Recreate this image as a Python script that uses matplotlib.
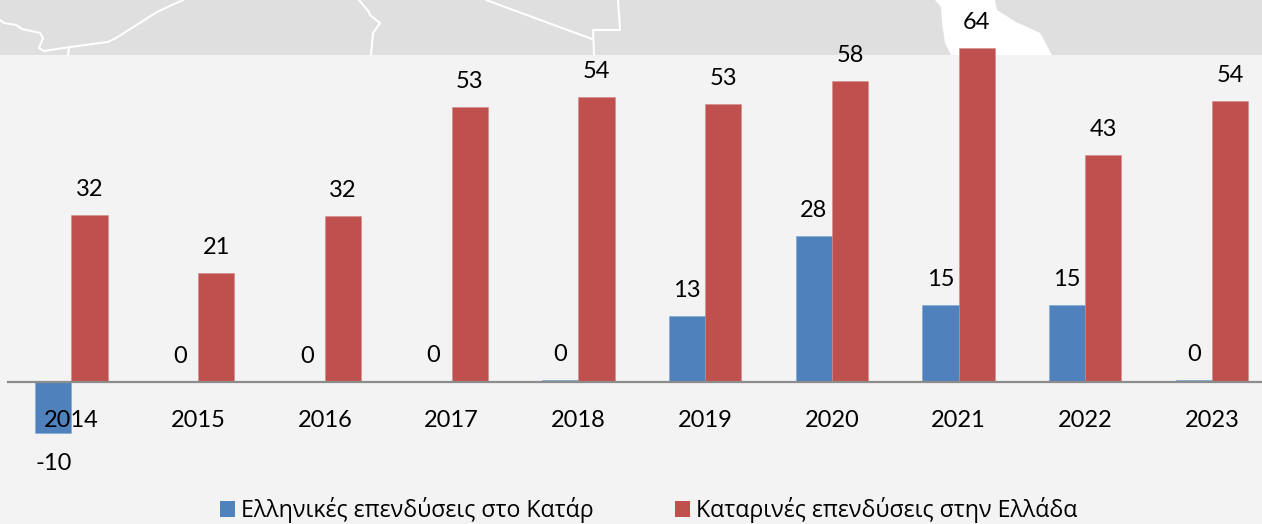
import numpy as np
import matplotlib
matplotlib.use("Agg")
import matplotlib.pyplot as plt
from matplotlib.patches import Polygon, Patch

# %% data
years = [2014, 2015, 2016, 2017, 2018, 2019, 2020, 2021, 2022, 2023]
greek = [-9.8, 0, 0, 0.1, 0.3, 12.6, 28, 14.7, 14.7, 0.3]
qatar = [32, 20.9, 31.8, 52.7, 54.6, 53.2, 57.7, 64, 43.5, 53.8]
greek_labels = ["-10", "0", "0", "0", "0", "13", "28", "15", "15", "0"]
qatar_labels = ["32", "21", "32", "53", "54", "53", "58", "64", "43", "54"]
names = ["Ελληνικές επενδύσεις στο Κατάρ", "Καταρινές επενδύσεις στην Ελλάδα"]

# background map outline, in pixels
border_lines = [
    [(0, 20), (4, 23), (16, 25), (22, 29), (40, 33), (43, 38), (39, 48), (44, 51),
     (70, 47), (108, 42), (116, 38), (157, 12), (183, 0)],
    [(69, 48), (68, 55)],
    [(359, 0), (369, 12), (370, 15), (380, 23), (373, 33), (371, 55)],
    [(486, 0), (592, 39)],
    [(594, 55), (593, 30), (620, 30), (618, 0)],
]
sea = [(935, 0), (941, 7), (942, 23), (945, 43), (951, 55), (1052, 55), (1044, 40),
       (1040, 33), (1016, 22), (997, 10), (995, 0)]

blue = "#4F81BD"
red = "#C0504D"
W, H = 1262, 524

# %%
fig = plt.figure(figsize=(W / 100, H / 100), dpi=100, facecolor="#F3F3F3")

bg = fig.add_axes([0, 0, 1, 1], zorder=0)
bg.set_xlim(0, W)
bg.set_ylim(H, 0)
bg.axis("off")
bg.fill_between([0, W], 0, 55, color="#DFDFDF", lw=0)
bg.add_patch(Polygon(sea, closed=True, fc="white", ec="none"))
for line in border_lines:
    xs, ys = zip(*line)
    bg.plot(xs, ys, color="white", lw=1.5, solid_capstyle="round", solid_joinstyle="round")

ax = fig.add_axes([8 / W, 0, (W - 8) / W, 1], zorder=1)
ax.patch.set_alpha(0)
step = 126.75
ax.set_xlim(-(71.5 - 8) / step, 9 + (W - 1212) / step)
ax.set_ylim(-(H - 382) / 5.22, 382 / 5.22)

x = np.arange(len(years))
bw = 36.2 / step
ax.bar(x - bw / 2, greek, bw, color=blue, edgecolor="#7FA6D6", lw=0.4, zorder=1)
ax.bar(x + bw / 2, qatar, bw, color=red, edgecolor="#D08A88", lw=0.4, zorder=1)

ax.set_axisbelow(False)
ax.set_xticks(x)
ax.set_xticklabels(years)
ax.tick_params(axis="x", length=0, pad=20, labelsize=17, labelfontfamily="Lato", labelcolor="black")
ax.set_yticks([])
for s in ["top", "left", "right"]:
    ax.spines[s].set_visible(False)
ax.spines["bottom"].set_position(("data", 0))
ax.spines["bottom"].set_color("#8C8C8C")
ax.spines["bottom"].set_linewidth(1.6)

off = 25.5 * 0.72
off_neg = 30 * 0.72
for i in x:
    ax.annotate(qatar_labels[i], (i + bw / 2, qatar[i]), xytext=(0, off), textcoords="offset points",
                ha="center", va="center", fontsize=17, family="Lato", color="black", zorder=4)
    dy = -off_neg if greek[i] < 0 else off
    ax.annotate(greek_labels[i], (i - bw / 2, greek[i]), xytext=(0, dy), textcoords="offset points",
                ha="center", va="center", fontsize=17, family="Lato", color="black", zorder=4)

handles = [Patch(fc=blue, ec="none"), Patch(fc=red, ec="none")]
ax.legend(handles, names, ncol=2, loc="lower center", bbox_to_anchor=(0.511, 0.002), frameon=False,
          prop={"family": "Open Sans", "size": 16.7}, handlelength=0.65, handleheight=0.65,
          handletextpad=0.26, columnspacing=3.5, borderaxespad=0, borderpad=0)

fig.savefig("out.png", dpi=100, facecolor=fig.get_facecolor())
